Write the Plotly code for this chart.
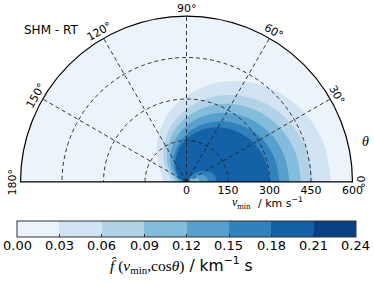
import math
import plotly.graph_objects as go

# ---------------- data ----------------
LEVELS = [0.00, 0.03, 0.06, 0.09, 0.12, 0.15, 0.18, 0.21, 0.24]
BAND_COLORS = ['#ebf3fb', '#d2e3f3', '#b2d2e8', '#84bcdb', '#57a0ce',
               '#3181bd', '#1461a8', '#084083']

RADIAL_TICKS = [0, 150, 300, 450, 600]
ANGLE_TICKS = [0, 30, 60, 90, 120, 150, 180]

# angles (deg) at which the outer contour boundaries were read
THETA = [0, 15, 30, 45, 60, 75, 90, 105, 120, 135, 150, 165, 180]
# outer boundary radius (km/s) of region f >= level
OUTER_003 = [522, 515, 495, 462, 419, 368, 312, 255, 200, 153, 116, 92, 84]
OUTER_006 = [456, 450, 431, 402, 362, 316, 264, 211, 161, 117, 83, 61, 54]
OUTER_009 = [414, 408, 391, 363, 326, 282, 234, 185, 138, 97, 65, 45, 38]
OUTER_012 = [372, 366, 350, 323, 289, 248, 203, 158, 116, 79, 50, 32, 26]
OUTER_015 = [336, 330, 314, 288, 254, 215, 173, 131, 93, 60, 35, 19, 14]
OUTER_018 = [300, 295, 281, 258, 228, 193, 155, 117, 80, 49, 25, 9, 4]

# inner loops near the origin (region where f drops below the level again)
INNER_018_T = [0, 15, 30, 45, 60, 62]
INNER_018_R = [110, 103, 82, 48, 5, 0]
INNER_015_T = [0, 15, 30, 45, 52]
INNER_015_R = [80, 73, 52, 18, 0]
INNER_012_T = [0, 15, 30, 40]
INNER_012_R = [50, 43, 22, 0]
INNER_009_T = [0, 15, 25]
INNER_009_R = [20, 13, 0]

RMAX = 600

# ---------------- layout geometry ----------------
W, H = 374, 282
ML, MR, MT, MB = 20, 21, 16, 100
PW, PH = W - ML - MR, H - MT - MB
CX, CY = ML + PW / 2, MT + PH   # pixel coords of pole

CB_X0, CB_X1 = 17.3, 356.0       # colorbar ends (px)
CB_TOP = 221


def px(x, y):
    """pixel -> paper coords"""
    return (x - ML) / PW, (MT + PH - y) / PH


fig = go.Figure()

outer = [OUTER_003, OUTER_006, OUTER_009, OUTER_012, OUTER_015, OUTER_018]
for i, rr in enumerate(outer):
    fig.add_trace(go.Scatterpolar(
        r=rr, theta=THETA, mode='lines', fill='toself',
        fillcolor=BAND_COLORS[i + 1], line=dict(width=0, shape='spline',
                                                color=BAND_COLORS[i + 1]),
        hoverinfo='skip', showlegend=False))

inner = [(INNER_018_T, INNER_018_R, 5), (INNER_015_T, INNER_015_R, 4),
         (INNER_012_T, INNER_012_R, 3), (INNER_009_T, INNER_009_R, 2)]
for tt, rr, ci in inner:
    fig.add_trace(go.Scatterpolar(
        r=rr, theta=tt, mode='lines', fill='toself',
        fillcolor=BAND_COLORS[ci], line=dict(width=0, shape='spline',
                                             color=BAND_COLORS[ci]),
        hoverinfo='skip', showlegend=False))

# dashed grid drawn above the filled contours
arc = list(range(0, 181, 2))
for rv in RADIAL_TICKS[1:-1]:
    fig.add_trace(go.Scatterpolar(
        r=[rv] * len(arc), theta=arc, mode='lines',
        line=dict(color='#222222', width=0.9, dash='4px,3px'),
        hoverinfo='skip', showlegend=False))
for av in ANGLE_TICKS[1:-1]:
    fig.add_trace(go.Scatterpolar(
        r=[0, RMAX], theta=[av, av], mode='lines',
        line=dict(color='#222222', width=0.9, dash='4px,3px'),
        hoverinfo='skip', showlegend=False))

# frame baseline
fig.add_trace(go.Scatterpolar(
    r=[RMAX, 0, RMAX], theta=[180, 180, 0], mode='lines',
    line=dict(color='black', width=1.2), hoverinfo='skip', showlegend=False,
    cliponaxis=False))

# colorbar carrier
nb = len(BAND_COLORS)
cscale = []
for i, c in enumerate(BAND_COLORS):
    cscale.append([i / nb, c])
    cscale.append([(i + 1) / nb, c])

fig.add_trace(go.Scatterpolar(
    r=[0, 0], theta=[0, 0], mode='markers',
    marker=dict(size=1, opacity=0, color=[LEVELS[0], LEVELS[-1]],
                colorscale=cscale, cmin=LEVELS[0], cmax=LEVELS[-1],
                showscale=True,
                colorbar=dict(orientation='h', x=px((CB_X0 + CB_X1) / 2, 0)[0],
                              xanchor='center', y=px(0, CB_TOP)[1], yanchor='top',
                              ypad=0, xpad=0,
                              len=(CB_X1 - CB_X0) / PW, lenmode='fraction',
                              thickness=16,
                              outlinecolor='#333333', outlinewidth=1,
                              tickvals=LEVELS, showticklabels=False,
                              ticks='inside', ticklen=3, tickcolor='#333333')),
    hoverinfo='skip', showlegend=False))

annotations = []
# colorbar tick labels
for v in LEVELS:
    x = CB_X0 + (v - LEVELS[0]) / (LEVELS[-1] - LEVELS[0]) * (CB_X1 - CB_X0)
    xp, yp = px(x, 245)
    annotations.append(dict(x=xp, y=yp, xref='paper', yref='paper', showarrow=False,
                            text=f'{v:.2f}', font=dict(size=13, color='black'),
                            xanchor='center', yanchor='middle'))
# colorbar title
xp, yp = px(181, 265)
annotations.append(dict(
    x=xp, y=yp, xref='paper', yref='paper', showarrow=False,
    text=('<span style="font-family:Liberation Serif"><i>f\u0302</i> (<i>v</i><sub>min</sub>,cos<i>θ</i>)</span>'
          ' / km<sup>\u22121</sup> s'),
    font=dict(size=15.5, color='black'), xanchor='center', yanchor='middle'))

# angular tick labels (rotated like the reference)
LABEL_R = 174
for a in ANGLE_TICKS:
    x = CX + LABEL_R * math.cos(math.radians(a))
    y = CY - LABEL_R * math.sin(math.radians(a))
    xp, yp = px(x, y)
    annotations.append(dict(x=xp, y=yp, xref='paper', yref='paper',
                            text=f'{a}°', showarrow=False, textangle=90 - a,
                            xanchor='center', yanchor='middle',
                            font=dict(size=11, color='black')))

xp, yp = px(253, 203)
annotations.append(dict(x=xp, y=yp, xref='paper', yref='paper', showarrow=False,
                        text='<i>v</i><sub>min</sub>',
                        font=dict(size=12, color='black', family='Liberation Serif'),
                        xanchor='right', yanchor='middle'))
xp, yp = px(256, 202)
annotations.append(dict(x=xp, y=yp, xref='paper', yref='paper', showarrow=False,
                        text='/ km s<sup>\u22121</sup>',
                        font=dict(size=11, color='black'),
                        xanchor='left', yanchor='middle'))
xp, yp = px(365.7, 141.7)
annotations.append(dict(x=xp, y=yp, xref='paper', yref='paper', showarrow=False,
                        text='<i>θ</i>', font=dict(size=14, color='black', family='Liberation Serif'),
                        xanchor='center', yanchor='middle'))
xp, yp = px(21.5, 30)
annotations.append(dict(x=xp, y=yp, xref='paper', yref='paper', showarrow=False,
                        text='SHM - RT', font=dict(size=12, color='black'),
                        xanchor='left', yanchor='middle'))

fig.update_layout(
    width=W, height=H,
    margin=dict(l=ML, r=MR, t=MT, b=MB, pad=0, autoexpand=False),
    paper_bgcolor='white',
    font=dict(family='DejaVu Sans', color='black'),
    showlegend=False,
    polar=dict(
        domain=dict(x=[0, 1], y=[0, 1]),
        sector=[0, 180],
        bgcolor=BAND_COLORS[0],
        radialaxis=dict(range=[0, RMAX], tickvals=RADIAL_TICKS,
                        ticktext=[str(v) for v in RADIAL_TICKS],
                        showgrid=False, showline=False, ticks='',
                        tickfont=dict(size=11, color='black'), angle=0),
        angularaxis=dict(tickvals=ANGLE_TICKS, showgrid=False,
                         showticklabels=False, ticks='', showline=True,
                         linecolor='black', linewidth=1.2,
                         direction='counterclockwise', rotation=0),
    ),
    annotations=annotations,
)

fig.write_html('out.html', config={'displayModeBar': False, 'staticPlot': True},
               post_script="document.body.style.margin='0px';")
